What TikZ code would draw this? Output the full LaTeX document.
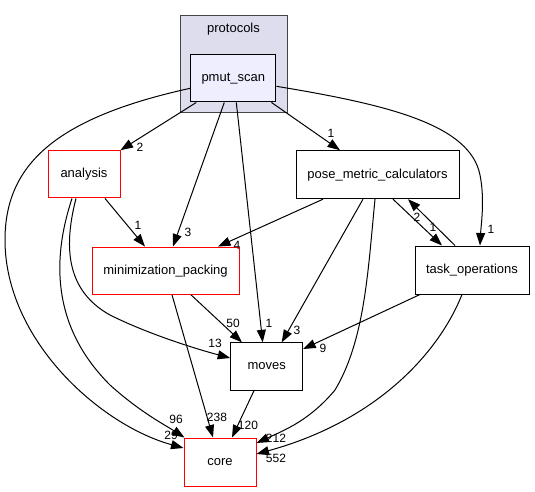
\documentclass[tikz,border=0pt]{standalone}
\usepackage{fontspec}
\setmainfont{Liberation Sans}
\usetikzlibrary{arrows.meta}
\definecolor{clusterfill}{HTML}{DDDDEE}
\definecolor{pmutfill}{HTML}{EEEEFF}
\definecolor{clusterline}{HTML}{444444}
\begin{document}
\begin{tikzpicture}[x=1pt,y=-1pt,
  box/.style={draw=black, line width=1pt, inner sep=0pt, font=\fontsize{13}{15}\selectfont, fill=white},
  redbox/.style={box, draw=red},
  dep/.style={draw=black, line width=1pt, -{Triangle[length=12.5pt,width=9pt]}},
  elabel/.style={inner sep=0pt, font=\fontsize{12}{14}\selectfont}]
\useasboundingbox (0,0) rectangle (535,492);
% cluster
\node[draw=clusterline, fill=clusterfill, line width=1pt, minimum width=107pt, minimum height=97pt, inner sep=0pt] (cluster) at (233.5,64.2) {};
\node[inner sep=0pt, font=\fontsize{13}{15}\selectfont] (cltitle) at (233.5,29) {protocols};
% nodes
\node[box, fill=pmutfill, minimum width=85.3pt, minimum height=47.3pt] (pmut) at (233.3,78.3) {pmut\_scan};
\node[redbox, minimum width=72pt, minimum height=47.3pt] (analysis) at (84,174.3) {analysis};
\node[box, minimum width=163pt, minimum height=48pt] (pmc) at (377.5,174.7) {pose\_metric\_calculators};
\node[redbox, minimum width=147pt, minimum height=47.3pt] (minpack) at (165.5,270.7) {minimization\_packing};
\node[box, minimum width=114pt, minimum height=48pt] (taskops) at (472,270) {task\_operations};
\node[box, minimum width=72pt, minimum height=47.3pt] (moves) at (266.7,366.5) {moves};
\node[redbox, minimum width=72pt, minimum height=48pt] (core) at (220,462) {core};
% edges
\draw[dep] ([xshift=-37pt]pmut.south) -- (analysis.north east);
\draw[dep] ([xshift=-9pt]pmut.south) -- ([xshift=7.5pt]minpack.north);
\draw[dep] ([xshift=3pt]pmut.south) -- ([xshift=-4pt]moves.north);
\draw[dep] ([yshift=-10pt]pmut.west) .. controls (55,118) and (5,165) .. (5,240) .. controls (5,340) and (100,425) .. ([yshift=14pt]core.west);
\draw[dep] ([xshift=-5pt]pmut.south east) -- ([xshift=-37.5pt]pmc.north);
\draw[dep] ([yshift=-8pt]pmut.east) .. controls (390,105) and (470,125) .. (480,175) .. controls (485,200) and (481,225) .. ([xshift=8pt]taskops.north);
\draw[dep] ([xshift=21pt]analysis.south) -- ([xshift=-20.5pt]minpack.north);
\draw[dep] ([xshift=-8pt]analysis.south) .. controls (64,245) and (65,290) .. (110,315) .. controls (150,335) and (200,350) .. ([yshift=8.5pt]moves.west);
\draw[dep] ([xshift=-12pt]analysis.south) .. controls (50,265) and (55,330) .. (110,385) .. controls (140,412) and (165,425) .. ([xshift=1pt]core.north west);
\draw[dep] ([xshift=-54.5pt]pmc.south) -- ([xshift=52.5pt]minpack.north);
\draw[dep] ([xshift=-14.5pt]pmc.south) -- ([xshift=15pt]moves.north);
\draw[dep] ([xshift=-2.5pt]pmc.south) .. controls (368,270) and (365,340) .. (335,390) .. controls (310,420) and (285,430) .. ([yshift=19pt]core.east);
\draw[dep] ([xshift=15.5pt]pmc.south) -- ([xshift=-30pt]taskops.north);
\draw[dep] ([xshift=-17pt]taskops.north) -- ([xshift=30.5pt]pmc.south);
\draw[dep] ([xshift=-52pt]taskops.south) -- ([yshift=17.5pt]moves.east);
\draw[dep] ([xshift=-10pt]taskops.south) .. controls (440,350) and (380,420) .. ([yshift=8pt]core.east);
\draw[dep] ([xshift=25.5pt]minpack.south) -- ([xshift=-24.7pt]moves.north);
\draw[dep] ([xshift=6.5pt]minpack.south) -- ([xshift=-7pt]core.north);
\draw[dep] ([xshift=-12.7pt]moves.south) -- ([xshift=12pt]core.north);
% edge labels
\node[elabel] (l1) at (140,147) {2};
\node[elabel] (l2) at (188,232) {3};
\node[elabel] (l3) at (269,323) {1};
\node[elabel] (l4) at (171,435) {29};
\node[elabel] (l5) at (331,133) {1};
\node[elabel] (l6) at (491,229) {1};
\node[elabel] (l7) at (138,225) {1};
\node[elabel] (l8) at (215,343) {13};
\node[elabel] (l9) at (176,419) {96};
\node[elabel] (l10) at (237,245) {4};
\node[elabel] (l11) at (297,330) {3};
\node[elabel] (l12) at (276,438) {212};
\node[elabel] (l13) at (433,227) {1};
\node[elabel] (l14) at (417,217) {2};
\node[elabel] (l15) at (323,348) {9};
\node[elabel] (l16) at (276,458) {552};
\node[elabel] (l17) at (233,323) {50};
\node[elabel] (l18) at (217,417) {238};
\node[elabel] (l19) at (248,425) {120};
\end{tikzpicture}
\end{document}
